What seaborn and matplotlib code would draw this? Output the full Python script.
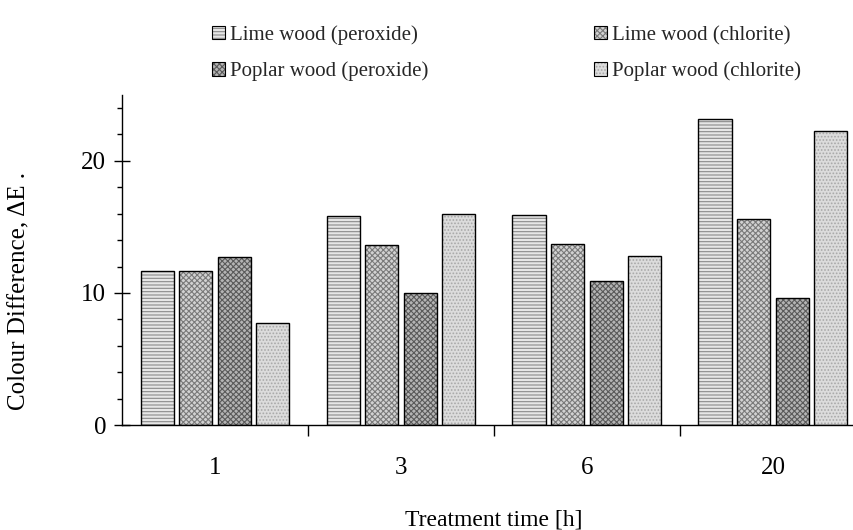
import matplotlib
matplotlib.use("Agg")
import matplotlib.pyplot as plt
from matplotlib.patches import Patch
from matplotlib.colors import to_rgba
import seaborn as sns
import pandas as pd

times = ["1", "3", "6", "20"]
series = ["Lime wood (peroxide)", "Lime wood (chlorite)",
          "Poplar wood (peroxide)", "Poplar wood (chlorite)"]
lime_peroxide = [11.7, 15.8, 15.9, 23.2]
lime_chlorite = [11.7, 13.6, 13.7, 15.6]
poplar_peroxide = [12.7, 10.0, 10.9, 9.6]
poplar_chlorite = [7.7, 16.0, 12.8, 22.3]
yticks = [0, 10, 20]

values = [lime_peroxide, lime_chlorite, poplar_peroxide, poplar_chlorite]
rows = []
for s, vals in zip(series, values):
    for t, v in zip(times, vals):
        rows.append({"time": t, "series": s, "value": v})
df = pd.DataFrame(rows)

sns.set_theme(style="ticks")
plt.rcParams["font.family"] = ["Liberation Serif", "DejaVu Serif"]
plt.rcParams["hatch.linewidth"] = 0.8

faces = ["#e6e6e6", "#d2d2d2", "#b4b4b4", "#dcdcdc"]
hatches = ["-----", "xxxxxx", "xxxxxx", "....."]
hcols = ["#8a8a8a", "#7a7a7a", "#5a5a5a", "#a8a8a8"]

fig = plt.figure(figsize=(8.54, 5.30), dpi=100)
ax = fig.add_axes([0.1429, 0.198, 0.871, 0.623])

sns.barplot(data=df, x="time", y="value", hue="series", order=times,
            hue_order=series, palette=faces, width=0.83, gap=0.14,
            edgecolor="black", linewidth=1.0, ax=ax, legend=False,
            saturation=1)

for i, cont in enumerate(ax.containers):
    for p in cont:
        p.set_hatch(hatches[i])
        p._hatch_color = to_rgba(hcols[i])

ax.set_xlim(-0.5, 3.5)
ax.set_ylim(0, 25)
ax.set_yticks(yticks)
ax.set_yticks([2, 4, 6, 8, 12, 14, 16, 18, 22, 24], minor=True)
ax.set_xticks(range(len(times)))
ax.set_xticklabels(times)
ax.set_xticks([0.5, 1.5, 2.5], minor=True)

ax.tick_params(axis="y", which="major", direction="inout", length=11,
               width=1, labelsize=18, colors="black", pad=6)
ax.tick_params(axis="y", which="minor", direction="out", length=3.6, width=1,
               colors="black")
ax.tick_params(axis="x", which="major", length=0, labelsize=18, pad=23,
               colors="black")
ax.tick_params(axis="x", which="minor", direction="out", length=8, width=1,
               colors="black")

for side in ["top", "right"]:
    ax.spines[side].set_visible(False)
for side in ["left", "bottom"]:
    ax.spines[side].set_color("black")
    ax.spines[side].set_linewidth(1.0)

ax.set_ylabel("Colour Difference, ΔE .", fontsize=18, color="black")
ax.yaxis.set_label_coords(-0.123, 0.406)
ax.set_xlabel("Treatment time [h]", fontsize=17, color="black")
ax.xaxis.set_label_coords(0.5, -0.256)

handles = {}
for i, s in enumerate(series):
    handles[s] = Patch(facecolor=faces[i], edgecolor="black",
                       hatch=hatches[i], linewidth=0.8, label=s)
order = [series[0], series[2], series[1], series[3]]
leg = fig.legend(handles=[handles[s] for s in order], labels=order, ncol=2,
                 loc="upper left", bbox_to_anchor=(0.239, 0.968),
                 frameon=False, fontsize=15, handlelength=0.6,
                 handleheight=0.6, handletextpad=0.25, columnspacing=7.95,
                 labelspacing=0.8, borderaxespad=0)
for h, s in zip(leg.legend_handles, order):
    h._hatch_color = to_rgba(hcols[series.index(s)])

fig.savefig("out.png", dpi=100)
